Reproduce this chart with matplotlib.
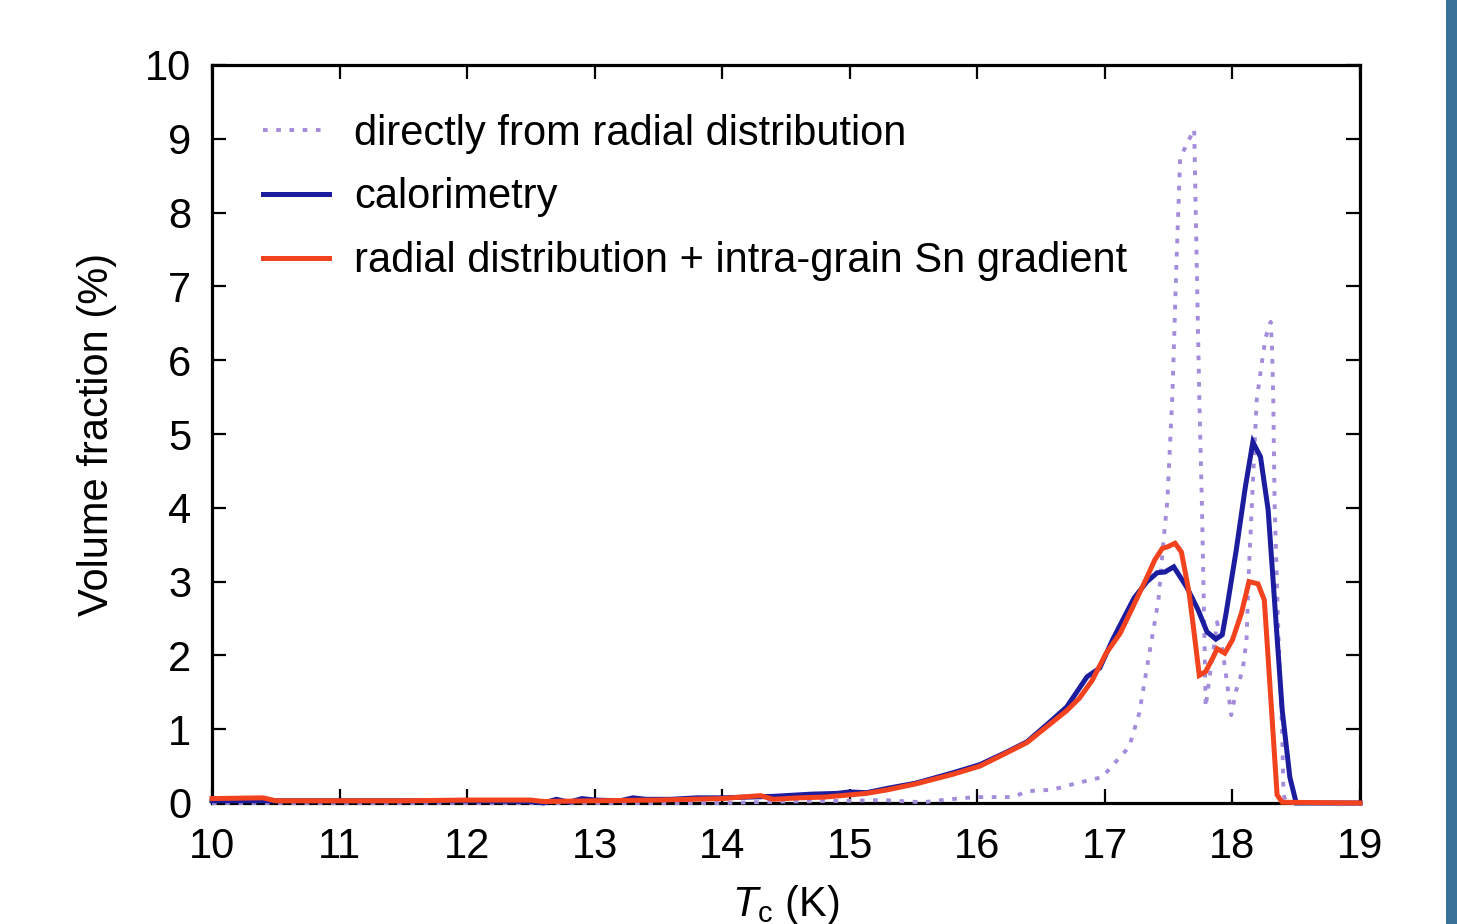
import matplotlib
matplotlib.use("Agg")
import matplotlib.pyplot as plt
from matplotlib.patches import Rectangle

# ---- data ----
t_direct = [10.0, 12.5, 13.0, 13.5, 14.0, 14.5, 15.0, 15.26, 15.57, 15.78, 15.99, 16.28,
            16.39, 16.59, 16.78, 16.98, 17.06, 17.19, 17.27, 17.34, 17.42, 17.46, 17.49,
            17.53, 17.56, 17.59, 17.64, 17.70, 17.72, 17.74, 17.76, 17.78, 17.79, 17.82,
            17.85, 17.88, 17.92, 17.96, 17.99, 18.03, 18.08, 18.11, 18.13, 18.16, 18.19,
            18.23, 18.26, 18.30, 18.31, 18.32, 18.33, 18.36, 18.39, 18.40, 18.42, 19.0]
v_direct = [0.0, 0.0, 0.0, 0.0, 0.0, 0.02, 0.03, 0.04, 0.01, 0.05, 0.08, 0.08,
            0.16, 0.18, 0.27, 0.35, 0.51, 0.76, 1.22, 1.94, 2.75, 3.56, 4.10,
            5.56, 7.26, 8.74, 8.92, 9.13, 7.30, 5.50, 4.10, 2.30, 1.30, 1.70,
            2.05, 2.45, 2.10, 1.60, 1.19, 1.53, 1.80, 2.20, 3.20, 4.33, 5.46,
            5.96, 6.31, 6.52, 6.18, 5.50, 4.10, 2.30, 0.95, 0.13, 0.0, 0.0]

t_calor = [10.0, 10.5, 11.0, 11.5, 12.0, 12.5, 12.6, 12.7, 12.8, 12.9, 13.0, 13.2, 13.3,
           13.4, 13.6, 13.8, 14.0, 14.2, 14.4, 14.5, 14.7, 14.9, 15.0, 15.13, 15.3, 15.52,
           15.81, 16.02, 16.23, 16.39, 16.57, 16.70, 16.86, 16.96, 17.06, 17.14, 17.23,
           17.33, 17.41, 17.47, 17.54, 17.64, 17.73, 17.80, 17.87, 17.92, 17.95, 18.03,
           18.10, 18.16, 18.22, 18.28, 18.39, 18.45, 18.50, 19.0]
v_calor = [0.03, 0.03, 0.03, 0.03, 0.03, 0.02, 0.0, 0.05, 0.01, 0.06, 0.04, 0.03, 0.07,
           0.05, 0.05, 0.07, 0.07, 0.08, 0.09, 0.10, 0.12, 0.13, 0.15, 0.14, 0.20, 0.27,
           0.41, 0.52, 0.69, 0.83, 1.10, 1.30, 1.71, 1.83, 2.21, 2.48, 2.78,
           3.00, 3.12, 3.13, 3.20, 2.93, 2.62, 2.32, 2.22, 2.28, 2.57, 3.43,
           4.27, 4.89, 4.69, 3.97, 1.26, 0.35, 0.0, 0.0]

t_radial = [10.0, 10.4, 10.5, 11.0, 11.5, 12.0, 12.5, 12.6, 13.0, 13.5, 14.0, 14.3, 14.4,
            14.6, 14.8, 15.0, 15.13, 15.3, 15.52, 15.81, 16.02, 16.23, 16.39, 16.57,
            16.70, 16.80, 16.90, 17.01, 17.12, 17.22, 17.33, 17.39, 17.45, 17.49, 17.55,
            17.60, 17.66, 17.70, 17.74, 17.79, 17.85, 17.88, 17.94, 18.00, 18.07, 18.13,
            18.20, 18.25, 18.31, 18.35, 18.39, 19.0]
v_radial = [0.06, 0.07, 0.03, 0.03, 0.03, 0.04, 0.04, 0.02, 0.03, 0.04, 0.06, 0.10, 0.05,
            0.07, 0.08, 0.11, 0.13, 0.18, 0.26, 0.39, 0.50, 0.68, 0.82, 1.07,
            1.25, 1.42, 1.66, 2.03, 2.30, 2.66, 3.06, 3.29, 3.45, 3.47, 3.52,
            3.40, 2.85, 2.30, 1.73, 1.78, 1.98, 2.09, 2.03, 2.21, 2.57, 3.00,
            2.97, 2.75, 1.17, 0.11, 0.01, 0.0]

labels = ["directly from radial distribution", "calorimetry",
          "radial distribution + intra-grain Sn gradient"]
x_ticks = list(range(10, 20))
y_ticks = list(range(0, 11))

# ---- style ----
plt.rcParams['font.family'] = ['Liberation Sans', 'DejaVu Sans']
plt.rcParams['mathtext.fontset'] = 'custom'
plt.rcParams['mathtext.rm'] = 'Liberation Sans'
plt.rcParams['mathtext.it'] = 'Liberation Sans:italic'

FS = 30
fig = plt.figure(figsize=(14.57, 9.24), dpi=100)
ax = fig.add_axes([212/1457, 1-803/924, (1360-212)/1457, (803-65)/924])

ax.plot(t_direct, v_direct, color='#a38ddb', lw=2.8, linestyle=(0, (1.2, 2.2)),
        dash_capstyle='butt', clip_on=False, zorder=3, label=labels[0])
ax.plot(t_calor, v_calor, color='#1c1c9f', lw=3.6, clip_on=False, zorder=4,
        solid_joinstyle='miter', label=labels[1])
ax.plot(t_radial, v_radial, color='#f2421e', lw=3.6, clip_on=False, zorder=5,
        solid_joinstyle='miter', label=labels[2])

ax.set_xlim(10, 19)
ax.set_ylim(0, 10)
ax.set_xticks(x_ticks)
ax.set_yticks(y_ticks)
for s in ax.spines.values():
    s.set_linewidth(2.3)
    s.set_zorder(2)
ax.tick_params(axis='both', which='major', direction='in', length=10, width=1.6,
               top=True, right=True, labelsize=FS, colors='black')
ax.tick_params(axis='x', pad=17)
ax.tick_params(axis='y', pad=15)

ax.set_xlabel(r'$T_\mathrm{c}$ (K)', fontsize=FS, labelpad=12)
ax.set_ylabel('Volume fraction (%)', fontsize=FS, labelpad=20)

leg = ax.legend(loc='upper left', bbox_to_anchor=(0.044, 0.934), frameon=False,
                fontsize=FS, handlelength=1.6, handletextpad=0.6,
                labelspacing=0.57, borderpad=0, borderaxespad=0)

fig.patches.append(Rectangle((1446/1457, 0), 11/1457, 1, transform=fig.transFigure,
                             facecolor='#3a7297', edgecolor='none', zorder=0))

fig.savefig('out.png', dpi=100)
